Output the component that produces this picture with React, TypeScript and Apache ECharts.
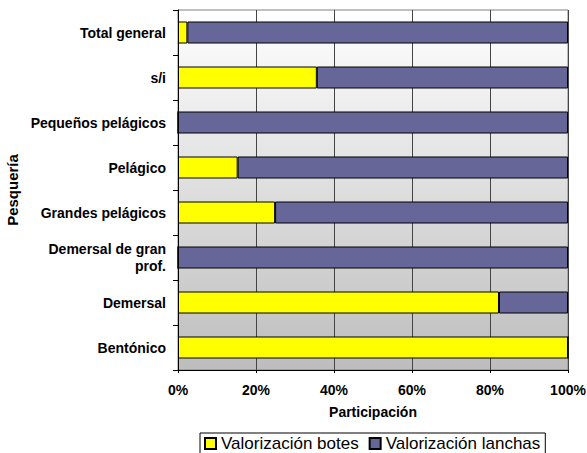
import React, { useEffect, useRef } from "react";
import * as echarts from "echarts";

const categories = [
  "Bentónico",
  "Demersal",
  "Demersal de gran\nprof.",
  "Grandes pelágicos",
  "Pelágico",
  "Pequeños pelágicos",
  "s/i",
  "Total general",
];
const botes = [100, 82.3, 0, 24.9, 15.3, 0, 35.6, 2.4];
const lanchas = [0, 17.7, 100, 75.1, 84.7, 100, 64.4, 97.6];
const seriesNames = ["Valorización botes", "Valorización lanchas"];
const xTicks = [0, 20, 40, 60, 80, 100];

export default function App() {
  const ref = useRef<HTMLDivElement>(null);
  useEffect(() => {
    if (!ref.current) return;
    const chart = echarts.init(ref.current, null, { renderer: "svg" });
    const font = "'Liberation Sans', Arial, sans-serif";
    chart.setOption({
      animation: false,
      textStyle: { fontFamily: font },
      grid: {
        left: 178,
        right: 19,
        top: 10,
        bottom: 83,
        outerBoundsMode: "none",
        containLabel: false,
        show: true,
        borderColor: "#808080",
        borderWidth: 1,
        backgroundColor: new echarts.graphic.LinearGradient(0, 0, 0, 1, [
          { offset: 0, color: "#ffffff" },
          { offset: 1, color: "#bdbdbd" },
        ]),
      },
      legend: {
        top: 433,
        left: 200,
        data: seriesNames,
        icon: "rect",
        itemWidth: 11,
        itemHeight: 11,
        itemGap: 10,
        borderColor: "#000",
        borderWidth: 1,
        borderRadius: 0,
        padding: [2, 5, 2, 4],
        textStyle: { fontSize: 17, lineHeight: 17, color: "#000", fontFamily: font },
      },
      xAxis: {
        type: "value",
        min: xTicks[0],
        max: xTicks[xTicks.length - 1],
        interval: 20,
        name: "Participación",
        nameLocation: "middle",
        nameGap: 35,
        nameTextStyle: { fontWeight: "bold", fontSize: 14, color: "#000", fontFamily: font },
        axisLine: { show: true, lineStyle: { color: "#000" } },
        axisTick: { show: true, length: 3, lineStyle: { color: "#000" } },
        axisLabel: {
          formatter: "{value}%",
          fontWeight: "bold",
          fontSize: 14,
          color: "#000",
          margin: 13,
          fontFamily: font,
        },
        splitLine: { show: true, lineStyle: { color: "#444", width: 1 } },
      },
      yAxis: {
        type: "category",
        data: categories,
        name: "Pesquería",
        nameLocation: "middle",
        nameGap: 158,
        nameRotate: 90,
        nameTextStyle: { fontWeight: "bold", fontSize: 15, color: "#000", fontFamily: font },
        axisLine: { show: true, lineStyle: { color: "#000" } },
        axisTick: { show: true, length: 5, lineStyle: { color: "#000" } },
        axisLabel: {
          fontWeight: "bold",
          fontSize: 14,
          color: "#000",
          margin: 12,
          lineHeight: 17,
          align: "right",
          fontFamily: font,
        },
        splitLine: { show: false },
      },
      series: [
        {
          name: seriesNames[0],
          type: "bar",
          stack: "total",
          barWidth: 22,
          data: botes,
          itemStyle: { color: "#ffff00", borderColor: "#000", borderWidth: 1 },
        },
        {
          name: seriesNames[1],
          type: "bar",
          stack: "total",
          barWidth: 22,
          data: lanchas,
          itemStyle: { color: "#666699", borderColor: "#000", borderWidth: 1 },
        },
      ],
    });
    return () => chart.dispose();
  }, []);
  return (
    <div
      ref={ref}
      style={{ position: "fixed", left: 0, top: 0, width: 587, height: 453, background: "#fff" }}
    />
  );
}
